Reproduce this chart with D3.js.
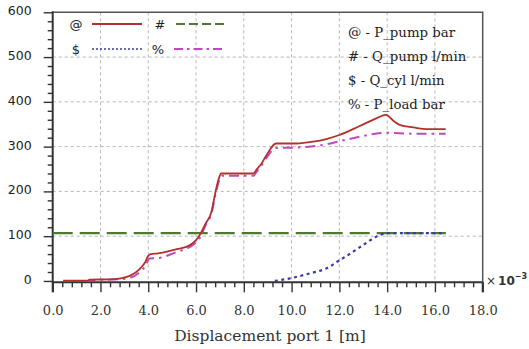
<!DOCTYPE html>
<html>
<head>
<meta charset="utf-8">
<script src="https://cdn.jsdelivr.net/npm/d3@7"></script>
<style>
  html, body { margin: 0; padding: 0; background: #fff; }
  svg { display: block; }
</style>
</head>
<body>
<svg id="chart" width="529" height="349"></svg>
<script>
// Displacement (x 10^-3 m) and the four simulated signals
const pPump = [
  [0.44, 0.5], [1.45, 0.5], [1.55, 3], [2.4, 3.5], [2.85, 6], [3.25, 12], [3.65, 27],
  [3.85, 40], [4.0, 56], [4.1, 60], [4.4, 61.5], [5.2, 71], [5.75, 80], [6.0, 91],
  [6.15, 102], [6.4, 128], [6.65, 155], [6.8, 195], [6.95, 228], [7.05, 240], [8.4, 240],
  [8.55, 250], [8.7, 259], [8.95, 281], [9.35, 307], [10.2, 307], [10.9, 311],
  [11.45, 317], [12.0, 326], [12.85, 346], [13.55, 363], [13.95, 371], [14.3, 356],
  [14.55, 348], [15.1, 343], [15.65, 339], [16.45, 339]
];
const qPump = [[0, 107], [16.45, 107]];
const qCyl = [
  [9.3, 0], [9.93, 5.8], [10.77, 17], [11.45, 28], [12.0, 46], [12.57, 65],
  [13.1, 84], [13.55, 99], [14.0, 107], [16.45, 107]
];
const pLoad = [
  [0.44, 0], [1.45, 0], [1.55, 2], [2.4, 3], [2.85, 4], [3.25, 7], [3.65, 20],
  [3.9, 35], [4.05, 50], [4.4, 51], [5.2, 65], [5.75, 76], [6.0, 86], [6.2, 100],
  [6.4, 125], [6.65, 152], [6.8, 190], [6.95, 222], [7.1, 235], [8.4, 235], [8.55, 245],
  [8.7, 255], [8.95, 275], [9.35, 297], [10.2, 298], [10.9, 301], [11.45, 305],
  [12.0, 312], [12.85, 322], [13.5, 329], [14.0, 331], [15.0, 329], [16.45, 329]
];

const xTicks = [0, 2, 4, 6, 8, 10, 12, 14, 16, 18];
const yTicks = [0, 100, 200, 300, 400, 500, 600];
const legendKeys = ["@", "#", "$", "%"];
const legendNames = ["@ - P_pump  bar", "# - Q_pump l/min", "$ - Q_cyl l/min", "% - P_load bar"];

const svg = d3.select("#chart");
const L = 52.7, R = 482.7, T = 12.3, B = 282.3;

const x = d3.scaleLinear().domain([0, 18]).range([L, R]);
const y = d3.scaleLinear().domain([-3, 600]).range([B, T]);

const serif = "'DejaVu Serif', 'Liberation Serif', serif";
const sans = "'DejaVu Sans', Verdana, sans-serif";

// grid
const grid = svg.append("g");
grid.selectAll("line.h").data(yTicks.filter(d => d > 0 && d < 600)).join("line")
  .attr("x1", L).attr("x2", R)
  .attr("y1", d => y(d)).attr("y2", d => y(d))
  .attr("stroke", "#b4b4b4").attr("stroke-width", 1).attr("stroke-dasharray", "3,3");
grid.selectAll("line.v").data(xTicks.filter(d => d > 0 && d < 18)).join("line")
  .attr("y1", T).attr("y2", B)
  .attr("x1", d => x(d)).attr("x2", d => x(d))
  .attr("stroke", "#b4b4b4").attr("stroke-width", 1).attr("stroke-dasharray", "3,3");

// frame (top and right)
svg.append("path")
  .attr("d", `M${L},${T}H${R}V${B}`)
  .attr("fill", "none").attr("stroke", "#555").attr("stroke-width", 1.5);

// y axis with minor ticks
const yAxis = d3.axisLeft(y).tickValues(d3.range(0, 601, 20)).tickSize(0).tickFormat("");
const gy = svg.append("g").attr("transform", `translate(${L},0)`).call(yAxis);
gy.select(".domain").remove();
gy.selectAll(".tick line")
  .attr("x2", d => d % 100 === 0 ? -9 : -5)
  .attr("stroke", "#333").attr("stroke-width", 1.4);
const gyl = svg.append("g").attr("transform", `translate(${L},0)`)
  .call(d3.axisLeft(y).tickValues(yTicks).tickSize(0).tickPadding(21).tickFormat(d3.format("d")));
gyl.select(".domain").remove();
gyl.selectAll("text").attr("font-family", sans).attr("font-size", 12.5).attr("fill", "#222").attr("dy", "0.2em");

// x axis with minor ticks
const gx = svg.append("g").attr("transform", `translate(0,${B})`)
  .call(d3.axisBottom(x).tickValues(d3.range(0, 18.01, 0.4)).tickSize(0).tickFormat(""));
gx.select(".domain").remove();
gx.selectAll(".tick line")
  .attr("y2", d => Math.abs(d / 2 - Math.round(d / 2)) < 1e-6 ? 10 : 5)
  .attr("stroke", "#333").attr("stroke-width", 1.4);
const gxl = svg.append("g").attr("transform", `translate(0,${B})`)
  .call(d3.axisBottom(x).tickValues(xTicks).tickSize(0).tickPadding(23).tickFormat(d3.format(".1f")));
gxl.select(".domain").remove();
gxl.selectAll("text").attr("font-family", serif).attr("font-size", 13).attr("fill", "#333");

// axis lines
svg.append("line").attr("x1", L).attr("x2", L).attr("y1", T - 1).attr("y2", B + 10)
  .attr("stroke", "#333").attr("stroke-width", 2);
svg.append("line").attr("x1", L).attr("x2", R).attr("y1", B).attr("y2", B)
  .attr("stroke", "#333").attr("stroke-width", 2);
svg.append("line").attr("x1", R).attr("x2", R).attr("y1", B).attr("y2", B + 10)
  .attr("stroke", "#333").attr("stroke-width", 2);

// scale factor label
const sf = svg.append("text").attr("x", 486).attr("y", 285)
  .attr("font-family", sans).attr("font-size", 12).attr("fill", "#333");
sf.append("tspan").text("×");
sf.append("tspan").attr("dx", 2).attr("font-weight", "bold").text("10");
sf.append("tspan").attr("font-size", 8).attr("font-weight", "bold").attr("dy", -6).text("−3");

// axis title
svg.append("text").attr("x", 270).attr("y", 341).attr("text-anchor", "middle")
  .attr("font-family", serif).attr("font-size", 15.5).attr("fill", "#333")
  .text("Displacement  port 1 [m]");

// series
const line = d3.line().x(d => x(d[0])).y(d => y(d[1])).curve(d3.curveMonotoneX);
const styles = [
  { data: qPump, color: "#4d7a2e", width: 2.3, dash: "20,7" },
  { data: qCyl, color: "#3b3ba6", width: 2.2, dash: "3,3.5" },
  { data: pLoad, color: "#c048c0", width: 2, dash: "10,5,2.5,5" },
  { data: pPump, color: "#b3302c", width: 1.8, dash: null }
];
const plot = svg.append("g");
styles.forEach(s => {
  plot.append("path").datum(s.data).attr("d", line)
    .attr("fill", "none").attr("stroke", s.color).attr("stroke-width", s.width)
    .attr("stroke-dasharray", s.dash).attr("stroke-linejoin", "round");
});

// legend keys (top-left)
const legendStyle = {
  "@": { color: "#b3302c", dash: null, width: 1.8 },
  "#": { color: "#4d7a2e", dash: "9,4", width: 2 },
  "$": { color: "#3b3ba6", dash: "2,2", width: 1.6 },
  "%": { color: "#c048c0", dash: "9,4,2.5,4", width: 2 }
};
const keyPos = [[76, 92, 24], [160, 176, 24], [76, 92, 49], [158, 174, 49]];
legendKeys.forEach((k, i) => {
  const [tx, lx, ly] = keyPos[i];
  const st = legendStyle[k];
  svg.append("text").attr("x", tx).attr("y", ly).attr("dy", "0.35em").attr("text-anchor", "middle")
    .attr("font-family", sans).attr("font-size", 13).attr("fill", "#222").text(k);
  svg.append("line").attr("x1", lx).attr("x2", lx + 50).attr("y1", ly).attr("y2", ly)
    .attr("stroke", st.color).attr("stroke-width", st.width).attr("stroke-dasharray", st.dash);
});

// legend names (top-right)
legendNames.forEach((t, i) => {
  svg.append("text").attr("x", 348).attr("y", 32 + i * 24).attr("dy", "0.35em")
    .attr("font-family", serif).attr("font-size", 13.3).attr("fill", "#222").text(t);
});
</script>
</body>
</html>
